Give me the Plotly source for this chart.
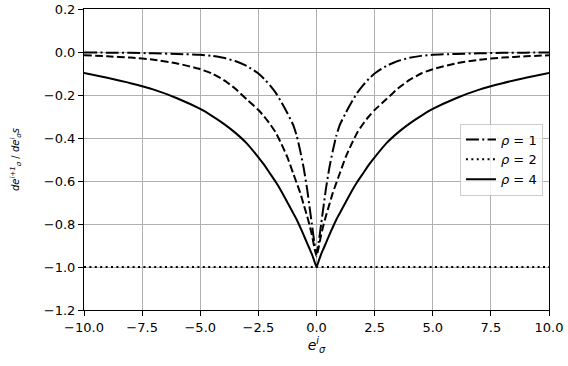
import plotly.graph_objects as go

# values (symmetric about x = 0)
x_vals = [-10, -9, -8, -7, -6, -5, -4.5, -4, -3.5, -3, -2.5, -2.25, -2, -1.75, -1.5, -1.25, -1, -0.85, -0.7, -0.55, -0.4, -0.3, -0.2, -0.1, 0,
          0.1, 0.2, 0.3, 0.4, 0.55, 0.7, 0.85, 1, 1.25, 1.5, 1.75, 2, 2.25, 2.5, 3, 3.5, 4, 4.5, 5, 6, 7, 8, 9, 10]
rho1 = [-0.002, -0.003, -0.004, -0.006, -0.009, -0.013, -0.018, -0.027, -0.042, -0.065, -0.10, -0.125, -0.155, -0.19, -0.235, -0.285, -0.34, -0.39, -0.46, -0.54, -0.64, -0.72, -0.80, -0.88, -0.94,
        -0.88, -0.80, -0.72, -0.64, -0.54, -0.46, -0.39, -0.34, -0.285, -0.235, -0.19, -0.155, -0.125, -0.10, -0.065, -0.042, -0.027, -0.018, -0.013, -0.009, -0.006, -0.004, -0.003, -0.002]
rho_mid = [-0.015, -0.02, -0.026, -0.036, -0.053, -0.08, -0.10, -0.13, -0.17, -0.22, -0.27, -0.30, -0.335, -0.375, -0.43, -0.49, -0.565, -0.61, -0.655, -0.71, -0.765, -0.805, -0.85, -0.905, -0.95,
           -0.905, -0.85, -0.805, -0.765, -0.71, -0.655, -0.61, -0.565, -0.49, -0.43, -0.375, -0.335, -0.30, -0.27, -0.22, -0.17, -0.13, -0.10, -0.08, -0.053, -0.036, -0.026, -0.02, -0.015]
rho4 = [-0.097, -0.12, -0.145, -0.175, -0.215, -0.265, -0.297, -0.333, -0.375, -0.425, -0.49, -0.525, -0.565, -0.605, -0.65, -0.70, -0.75, -0.78, -0.815, -0.852, -0.89, -0.915, -0.94, -0.97, -1.0,
        -0.97, -0.94, -0.915, -0.89, -0.852, -0.815, -0.78, -0.75, -0.70, -0.65, -0.605, -0.565, -0.525, -0.49, -0.425, -0.375, -0.333, -0.297, -0.265, -0.215, -0.175, -0.145, -0.12, -0.097]
rho2 = [-1.0 for _ in x_vals]

font_name = "DejaVu Sans"

fig = go.Figure()
fig.add_trace(go.Scatter(x=x_vals, y=rho1, mode="lines", name="<i>ρ</i> = 1",
                         line=dict(color="black", width=2, dash="13px,3.3px,2px,3.3px", shape="spline", smoothing=0.5)))
fig.add_trace(go.Scatter(x=x_vals, y=rho_mid, mode="lines", showlegend=False,
                         line=dict(color="black", width=2, dash="7.7px,3.3px", shape="spline", smoothing=0.5)))
fig.add_trace(go.Scatter(x=x_vals, y=rho2, mode="lines", name="<i>ρ</i> = 2",
                         line=dict(color="black", width=2, dash="2px,3.4px")))
fig.add_trace(go.Scatter(x=x_vals, y=rho4, mode="lines", name="<i>ρ</i> = 4",
                         line=dict(color="black", width=2, shape="spline", smoothing=0.5)))

axis_style = dict(showline=True, linecolor="black", linewidth=1, mirror=True, automargin=False,
                  showgrid=True, gridcolor="#b0b0b0", gridwidth=1, zeroline=False,
                  ticks="outside", ticklen=5, tickwidth=1, tickcolor="black",
                  tickfont=dict(family=font_name, size=13, color="black"))

fig.update_xaxes(range=[-10, 10], tickvals=[-10, -7.5, -5, -2.5, 0, 2.5, 5, 7.5, 10], tickformat=".1f",
                 title=dict(text="<i>e</i><sup><i>i</i></sup><sub><i>σ</i></sub>", font=dict(family=font_name, size=14), standoff=6),
                 **axis_style)
fig.update_yaxes(range=[-1.2, 0.2], tickvals=[-1.2, -1.0, -0.8, -0.6, -0.4, -0.2, 0.0, 0.2], tickformat=".1f",
                 title=dict(text="<i>de</i><sup><i>i+1</i></sup><sub><i>σ</i></sub> / <i>de</i><sup><i>i</i></sup><sub><i>σ</i></sub><i>s</i>",
                            font=dict(family=font_name, size=10), standoff=22),
                 **axis_style)

fig.update_layout(
    width=568, height=366,
    margin=dict(l=84, r=19, t=9, b=56),
    plot_bgcolor="white", paper_bgcolor="white",
    font=dict(family=font_name, color="black"),
    legend=dict(x=0.987, y=0.5, xanchor="right", yanchor="middle",
                bgcolor="rgba(255,255,255,0.8)", bordercolor="#cccccc", borderwidth=1,
                font=dict(family=font_name, size=13), tracegroupgap=2),
)

# drop the browser's default page margin so the figure sits at the window's corner
fig.write_html("out.html", config={"displayModeBar": False},
               post_script="document.body.style.margin='0';")
